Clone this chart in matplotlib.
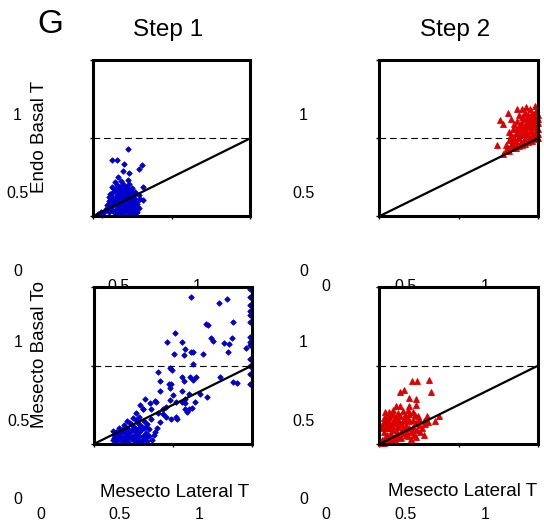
import matplotlib
matplotlib.use("Agg")
from matplotlib import pyplot as plt
from matplotlib.transforms import blended_transform_factory, ScaledTranslation

plt.rcParams['font.family'] = ['Liberation Sans', 'DejaVu Sans']

# tick values and the (shifted) labels printed in the figure
xtick_vals = [0, 0.5, 1]
xtick_labels = ['0', '0.5', '1']
ytick_vals = [0, 1, 2]
ytick_labels = ['0', '0.5', '1']
titles = ['Step 1', 'Step 2']
ylabels = ['Endo Basal T', 'Mesecto Basal To']
xlabel = 'Mesecto Lateral T'
threshold = 1.0

# Step 1, Endo
endo1_x = [0.223, 0.119, 0.151, 0.197, 0.31, 0.295, 0.189, 0.229, 0.161, 0.32, 0.316,
           0.10, 0.12, 0.14, 0.16, 0.18, 0.20, 0.22, 0.24, 0.26, 0.28,
           0.11, 0.13, 0.15, 0.17, 0.19, 0.21, 0.23, 0.25, 0.27, 0.29,
           0.10, 0.12, 0.14, 0.16, 0.18, 0.20, 0.22, 0.24, 0.26, 0.28, 0.30,
           0.11, 0.13, 0.15, 0.17, 0.19, 0.21, 0.23, 0.25, 0.27, 0.29,
           0.13, 0.15, 0.17, 0.19, 0.21, 0.23, 0.25, 0.18, 0.22, 0.14,
           0.03, 0.05, 0.07, 0.08, 0.09, 0.06,
           0.11, 0.13, 0.15, 0.17, 0.19, 0.21, 0.23, 0.25, 0.27,
           0.12, 0.14, 0.16, 0.18, 0.20, 0.22, 0.24, 0.26, 0.28,
           0.12, 0.14, 0.16, 0.18, 0.20, 0.22, 0.24, 0.26,
           0.14, 0.16, 0.18, 0.20, 0.22, 0.24, 0.16, 0.20, 0.12, 0.10]
endo1_y = [0.86, 0.72, 0.72, 0.675, 0.655, 0.61, 0.58, 0.555, 0.50, 0.37, 0.21,
           0.05, 0.08, 0.04, 0.06, 0.03, 0.05, 0.04, 0.06, 0.03, 0.05,
           0.12, 0.15, 0.11, 0.14, 0.10, 0.13, 0.16, 0.12, 0.15, 0.11,
           0.20, 0.22, 0.19, 0.24, 0.21, 0.18, 0.23, 0.20, 0.24, 0.19, 0.22,
           0.28, 0.31, 0.27, 0.30, 0.33, 0.28, 0.32, 0.29, 0.31, 0.27,
           0.36, 0.40, 0.37, 0.41, 0.38, 0.42, 0.36, 0.45, 0.47, 0.44,
           0.03, 0.06, 0.05, 0.10, 0.15, 0.02,
           0.08, 0.07, 0.08, 0.09, 0.07, 0.09, 0.10, 0.08, 0.09,
           0.17, 0.16, 0.18, 0.16, 0.15, 0.19, 0.17, 0.19, 0.16,
           0.25, 0.24, 0.27, 0.26, 0.25, 0.27, 0.25, 0.27,
           0.34, 0.33, 0.35, 0.34, 0.35, 0.33, 0.38, 0.31, 0.38, 0.25]

# Step 2, Endo
endo2_x = [0.744, 0.76, 0.81, 0.87, 0.925, 0.98, 0.84, 0.78, 0.83, 0.90, 0.95,
           0.78, 0.80, 0.82, 0.84, 0.86, 0.88, 0.90, 0.92, 0.94, 0.96, 0.98, 1.0,
           0.80, 0.82, 0.84, 0.86, 0.88, 0.90, 0.92, 0.94, 0.96, 0.98, 1.0,
           0.82, 0.84, 0.86, 0.88, 0.90, 0.92, 0.94, 0.96, 0.98, 1.0,
           0.85, 0.87, 0.89, 0.91, 0.93, 0.95, 0.97, 0.99, 1.0,
           0.88, 0.92, 0.96, 0.99, 1.0, 0.94,
           0.81, 0.83, 0.85, 0.87, 0.89, 0.91, 0.93, 0.95, 0.97, 0.99,
           0.83, 0.85, 0.87, 0.89, 0.91, 0.93, 0.95, 0.97, 0.99,
           0.86, 0.88, 0.90, 0.92, 0.94, 0.96, 0.98, 1.0,
           0.90, 0.93, 0.95, 0.97, 0.99, 0.92, 0.96, 0.98]
endo2_y = [0.91, 1.23, 1.32, 1.38, 1.40, 1.42, 0.96, 1.18, 1.25, 1.37, 1.38,
           0.80, 0.85, 0.84, 0.88, 0.87, 0.90, 0.92, 0.93, 0.95, 0.97, 0.99, 1.01,
           0.92, 0.98, 1.02, 0.95, 1.00, 1.05, 1.00, 1.04, 1.02, 1.06, 1.05,
           1.08, 1.12, 1.06, 1.12, 1.15, 1.10, 1.14, 1.10, 1.15, 1.12,
           1.18, 1.22, 1.20, 1.25, 1.21, 1.27, 1.22, 1.28, 1.20,
           1.30, 1.32, 1.33, 1.35, 1.30, 1.30,
           0.88, 0.91, 0.92, 0.93, 0.95, 0.97, 0.97, 0.99, 1.00, 1.02,
           1.04, 1.00, 1.08, 1.05, 1.10, 1.07, 1.09, 1.06, 1.10,
           1.12, 1.16, 1.19, 1.17, 1.19, 1.16, 1.20, 1.25,
           1.27, 1.26, 1.23, 1.29, 1.24, 1.33, 1.30, 1.32]

# Step 1, Mesecto
mes1_x = [0.987, 0.987, 0.987, 0.987, 0.987, 0.987, 0.987, 0.987, 0.987, 0.987, 0.987, 0.987, 0.987,
          0.96, 0.618, 0.791, 0.84, 0.713, 0.72, 0.878, 0.739, 0.755, 0.823, 0.856, 0.875, 0.852,
          0.517, 0.464, 0.561, 0.508, 0.58, 0.618, 0.63, 0.692, 0.57, 0.628, 0.485, 0.495, 0.407,
          0.561, 0.608, 0.65, 0.628, 0.57, 0.418, 0.477, 0.49, 0.48, 0.557, 0.797, 0.907, 0.88,
          0.42, 0.671, 0.717, 0.60, 0.58, 0.56, 0.575, 0.50, 0.48, 0.52, 0.46, 0.44, 0.639, 0.62,
          0.60, 0.59, 0.576, 0.523, 0.53, 0.49,
          0.397, 0.385, 0.354, 0.323, 0.291, 0.31, 0.36, 0.41, 0.44, 0.46,
          0.12, 0.14, 0.16, 0.18, 0.20, 0.22, 0.24, 0.26, 0.28, 0.30, 0.32, 0.34,
          0.13, 0.15, 0.17, 0.19, 0.21, 0.23, 0.25, 0.27, 0.29, 0.31, 0.33,
          0.16, 0.18, 0.20, 0.22, 0.24, 0.26, 0.28, 0.30, 0.32, 0.34,
          0.21, 0.25, 0.29, 0.36, 0.38, 0.40, 0.37, 0.42, 0.27, 0.31, 0.122,
          0.13, 0.15, 0.17, 0.19, 0.21, 0.23, 0.25, 0.27, 0.29, 0.31, 0.33, 0.35,
          0.14, 0.16, 0.18, 0.20, 0.22, 0.24, 0.26, 0.28, 0.30, 0.32,
          0.19, 0.23, 0.27, 0.33, 0.35, 0.39]
mes1_y = [1.98, 1.87, 1.77, 1.70, 1.64, 1.55, 1.36, 1.30, 1.26, 1.09, 1.00, 0.90, 0.77,
          1.23, 1.87, 1.80, 1.85, 1.53, 1.52, 1.56, 1.35, 1.32, 1.29, 1.28, 1.35, 1.17,
          1.41, 1.30, 1.30, 1.15, 1.21, 1.17, 1.18, 1.15, 1.14, 1.02, 0.97, 0.95, 0.92,
          0.85, 0.85, 0.85, 0.82, 0.80, 0.80, 0.76, 0.76, 0.71, 0.68, 0.85, 0.78, 0.79,
          0.68, 0.64, 0.60, 0.64, 0.57, 0.54, 0.52, 0.62, 0.56, 0.54, 0.47, 0.45, 0.54, 0.46,
          0.45, 0.41, 0.45, 0.34, 0.32, 0.32,
          0.54, 0.55, 0.52, 0.58, 0.50, 0.45, 0.45, 0.40, 0.38, 0.35,
          0.05, 0.03, 0.06, 0.04, 0.05, 0.03, 0.06, 0.04, 0.05, 0.03, 0.06, 0.04,
          0.12, 0.10, 0.13, 0.09, 0.12, 0.15, 0.10, 0.13, 0.16, 0.11, 0.14,
          0.20, 0.18, 0.22, 0.19, 0.25, 0.21, 0.27, 0.23, 0.30, 0.26,
          0.30, 0.33, 0.35, 0.32, 0.12, 0.20, 0.05, 0.28, 0.40, 0.45, 0.17,
          0.08, 0.07, 0.09, 0.06, 0.08, 0.09, 0.07, 0.08, 0.10, 0.07, 0.09, 0.10,
          0.16, 0.15, 0.16, 0.15, 0.17, 0.18, 0.17, 0.19, 0.18, 0.20,
          0.25, 0.27, 0.31, 0.22, 0.19, 0.16]

# Step 2, Mesecto
mes2_x = [0.208, 0.239, 0.316, 0.329, 0.159, 0.134, 0.19, 0.233, 0.107,
          0.13, 0.19, 0.23, 0.085, 0.061, 0.035, 0.04, 0.035,
          0.07, 0.107, 0.134, 0.16, 0.185, 0.215, 0.225, 0.245, 0.302, 0.354, 0.375, 0.28,
          0.02, 0.04, 0.06, 0.08, 0.10, 0.12, 0.14, 0.16, 0.18, 0.20, 0.22, 0.24, 0.26,
          0.03, 0.05, 0.07, 0.09, 0.11, 0.13, 0.15, 0.17, 0.19, 0.21, 0.23, 0.25, 0.27, 0.29, 0.31,
          0.02, 0.04, 0.06, 0.09, 0.12, 0.15, 0.18, 0.01, 0.03, 0.05, 0.08, 0.11, 0.14, 0.17,
          0.20, 0.23, 0.28,
          0.03, 0.05, 0.07, 0.09, 0.11, 0.13, 0.15, 0.17, 0.19, 0.21,
          0.02, 0.04, 0.06, 0.08, 0.10, 0.12, 0.14, 0.16,
          0.03, 0.06, 0.09, 0.12, 0.15, 0.18, 0.21, 0.25]
mes2_y = [0.80, 0.80, 0.82, 0.66, 0.69, 0.66, 0.59, 0.58, 0.49,
          0.48, 0.48, 0.50, 0.43, 0.41, 0.41, 0.35, 0.31,
          0.37, 0.35, 0.36, 0.37, 0.39, 0.41, 0.37, 0.36, 0.36, 0.30, 0.36, 0.30,
          0.05, 0.08, 0.04, 0.10, 0.06, 0.12, 0.08, 0.14, 0.10, 0.16, 0.12, 0.18, 0.15,
          0.15, 0.20, 0.25, 0.18, 0.22, 0.27, 0.20, 0.25, 0.29, 0.22, 0.27, 0.24, 0.20, 0.26, 0.28,
          0.25, 0.28, 0.30, 0.29, 0.31, 0.30, 0.33, 0.02, 0.01, 0.12, 0.03, 0.09, 0.16, 0.18,
          0.07, 0.09, 0.12,
          0.07, 0.10, 0.13, 0.08, 0.15, 0.10, 0.17, 0.12, 0.20, 0.19,
          0.20, 0.23, 0.20, 0.24, 0.27, 0.23, 0.26, 0.31,
          0.33, 0.35, 0.38, 0.40, 0.42, 0.44, 0.31, 0.32]

blue = '#0000cc'
red = '#dd0000'

fig = plt.figure(figsize=(5.44, 5.25), dpi=100)

# axes rectangles in figure fractions
rects = [[0.171, 0.588, 0.289, 0.297], [0.697, 0.588, 0.292, 0.297],
         [0.172, 0.154, 0.291, 0.299], [0.697, 0.154, 0.292, 0.299]]
panels = [(endo1_x, endo1_y, blue, 'D', 2.8),
          (endo2_x, endo2_y, red, '^', 3.8),
          (mes1_x, mes1_y, blue, 'D', 2.8),
          (mes2_x, mes2_y, red, '^', 3.8)]

px = fig.dpi_scale_trans
for i, (rect, (xs, ys, col, mk, ms)) in enumerate(zip(rects, panels)):
    ax = fig.add_axes(rect)
    ax.plot(xs, ys, ls='none', marker=mk, ms=ms, color=col, mec=col, mew=0.6, clip_on=False, zorder=2)
    ax.plot([0, 1], [0, 1], color='k', lw=1.6, zorder=3)
    ax.axhline(threshold, color='k', lw=0.8, ls=(0, (6, 3.5)), zorder=1)
    ax.set_xlim(0, 1)
    ax.set_ylim(0, 2)
    ax.set_xticks(xtick_vals)
    ax.set_yticks(ytick_vals)
    ax.tick_params(direction='out', length=2, width=1, labelbottom=False, labelleft=False)
    for s in ax.spines.values():
        s.set_linewidth(2.2)

    # tick labels sit away from their ticks, as in the source figure
    trx = blended_transform_factory(ax.transData, ax.transAxes) + ScaledTranslation(-0.53, -0.70, px)
    for j, (v, lab) in enumerate(zip(xtick_vals, xtick_labels)):
        if i == 0 and j == 0:
            continue
        ax.text(v, 0, lab, transform=trx, ha='center', va='center', fontsize=11.5, clip_on=False)
    try_ = blended_transform_factory(ax.transAxes, ax.transData) + ScaledTranslation(-0.755, -0.555, px)
    for v, lab in zip(ytick_vals, ytick_labels):
        ax.text(0, v, lab, transform=try_, ha='center', va='center', fontsize=11.5, clip_on=False)

W, H = 544, 525
fig.text(50 / W, 1 - 33 / H, 'G', fontsize=24, ha='center', va='baseline')
fig.text(168 / W, 1 - 36 / H, titles[0], fontsize=17.5, ha='center', va='baseline')
fig.text(455 / W, 1 - 36 / H, titles[1], fontsize=17.5, ha='center', va='baseline')
fig.text(40 / W, 1 - 137 / H, ylabels[0], fontsize=13.5, rotation=90, ha='center', va='center')
fig.text(40 / W, 1 - 355 / H, ylabels[1], fontsize=13.5, rotation=90, ha='center', va='center')
fig.text(175 / W, 1 - 497 / H, xlabel, fontsize=13.5, ha='center', va='baseline')
fig.text(463 / W, 1 - 496 / H, xlabel, fontsize=13.5, ha='center', va='baseline')

fig.savefig('out.png', dpi=100)
